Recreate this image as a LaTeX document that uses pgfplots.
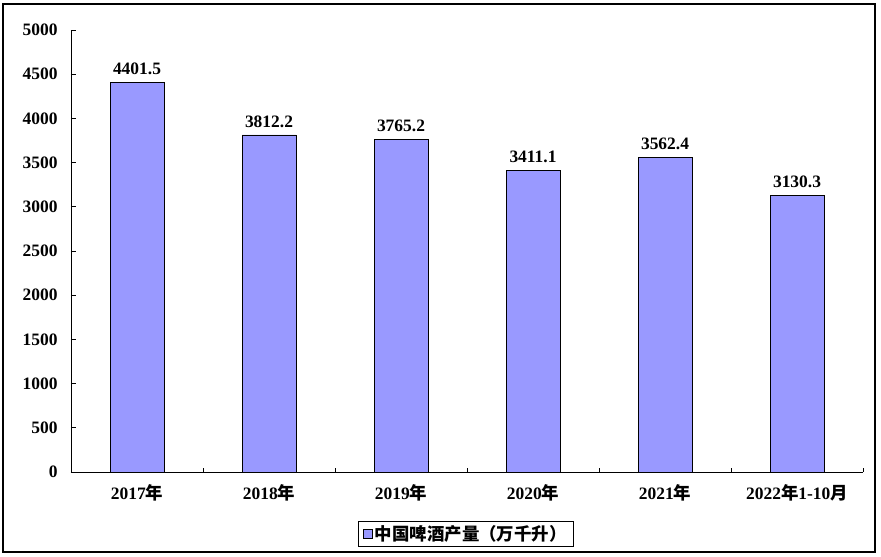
\documentclass[border=0pt]{standalone}
\usepackage{pgfplots}
\pgfplotsset{compat=1.18}
\usepackage{fontspec}
\setmainfont{Liberation Serif}
\newfontfamily\cjk{Noto Sans CJK SC}
\definecolor{barblue}{HTML}{9999FF}
\newcommand\lab{\fontsize{17.5}{19}\selectfont\bfseries}

\begin{document}
\begin{tikzpicture}[x=1bp,y=1bp]
\useasboundingbox (-71,-85) rectangle (810,472);
\draw[line width=1.2bp] (-68,-80) rectangle (804,468);
\begin{axis}[
    at={(0,0)}, anchor=south west,
    scale only axis,
    width=792bp, height=442bp,
    ybar, bar width=54bp,
    xmin=-0.5, xmax=5.5,
    ymin=0, ymax=5000,
    ytick={0,500,...,5000},
    xtick={0,...,5},
    xticklabels={2017{\cjk 年},2018{\cjk 年},2019{\cjk 年},2020{\cjk 年},2021{\cjk 年},2022{\cjk 年}1-10{\cjk 月}},
    minor xtick={0.5,1.5,...,5.5},
    major x tick style={draw=none},
    minor tick length=4bp,
    major tick length=5bp,
    tick align=inside,
    axis x line*=bottom, axis y line*=left,
    axis line style={line width=0.8bp, -},
    tick style={black, line width=0.8bp},
    separate axis lines,
    ticklabel style={font=\lab},
    /pgf/number format/1000 sep={},
    /pgf/number format/assume math mode=true,
    yticklabel style={xshift=-10bp},
    xticklabel style={yshift=-9bp},
    point meta=explicit symbolic,
    nodes near coords,
    nodes near coords style={font=\lab, yshift=4bp},
    legend style={draw=black, line width=0.8bp, at={(0.4987,-0.140)}, anchor=center,
        font=\lab, inner xsep=5bp, inner ysep=2bp},
    legend image code/.code={\draw[fill=barblue, draw=black, line width=0.6bp] (0bp,-4.5bp) rectangle (9bp,4.5bp);},
]
\addplot[fill=barblue, draw=black, line width=0.8bp]
    coordinates {
    (0,4401.5) [4401.5]
    (1,3812.2) [3812.2]
    (2,3765.2) [3765.2]
    (3,3411.1) [3411.1]
    (4,3562.4) [3562.4]
    (5,3130.3) [3130.3]
    };
\addlegendentry{{\cjk 中国啤酒产量（万千升）}}
\end{axis}
\end{tikzpicture}
\end{document}
